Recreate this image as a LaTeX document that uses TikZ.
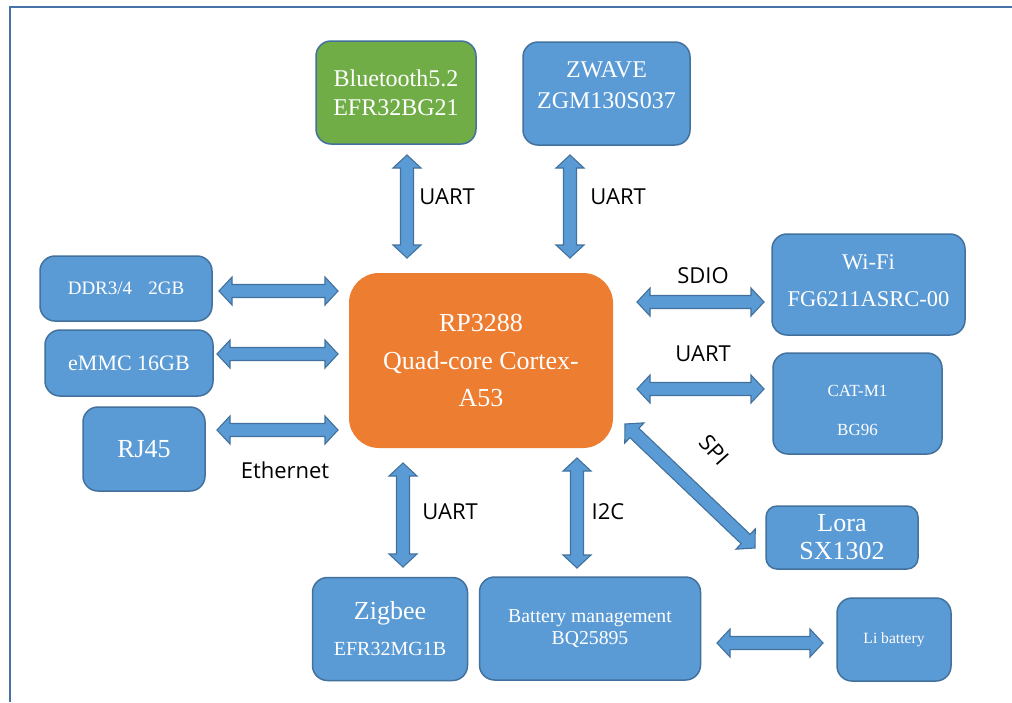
\documentclass[tikz,border=0pt]{standalone}
\usepackage{fontspec}
\setmainfont{Liberation Serif}
\newfontfamily\labfont{Open Sans}
\usetikzlibrary{calc}
\definecolor{boxblue}{RGB}{91,155,213}
\definecolor{edgeblue}{RGB}{65,113,156}
\definecolor{boxgreen}{RGB}{112,173,71}
\definecolor{boxorange}{RGB}{237,125,49}
\definecolor{framecol}{RGB}{70,114,166}
\tikzset{
  bbox/.style={draw=edgeblue, line width=1.5pt, fill=boxblue, rounded corners=15pt,
    inner sep=0pt, text=white, align=center},
  gbox/.style={bbox, fill=boxgreen},
  obox/.style={fill=boxorange, rounded corners=30pt, inner sep=0pt, text=white, align=center},
  wtxt/.style={inner sep=0pt, text=white, align=center},
  lab/.style={inner sep=0pt, font=\labfont\fontsize{22}{26}\selectfont},
  barr/.style={draw=edgeblue, line width=1.1pt, fill=boxblue, line join=miter},
}
\newcommand\barrow[2]{%
  \draw[barr] let \p1=(#1), \p2=(#2), \n1={atan2(\y2-\y1,\x2-\x1)},
    \n2={veclen(\x2-\x1,\y2-\y1)} in
    (\p1) -- ++({\n1+47.1}:19.1pt) -- ++({\n1-90}:7.5pt) -- ++({\n1}:{\n2*1pt-26pt})
    -- ++({\n1+90}:7.5pt) -- (\p2) -- ++({\n1-132.9}:19.1pt) -- ++({\n1+90}:7.5pt)
    -- ++({\n1+180}:{\n2*1pt-26pt}) -- ++({\n1-90}:7.5pt) -- cycle;}
\begin{document}
\begin{tikzpicture}[x=1pt,y=-1pt]
\useasboundingbox (0,0) rectangle (1012,702);
\fill[white] (0,0) rectangle (1012,702);
% frame
\draw[framecol, line width=2pt] (10,702) -- (10,7) -- (1012,7);

% boxes
\node[gbox, minimum width=160, minimum height=103, font=\fontsize{24}{29}\selectfont] (bt) at (396,92.5) {Bluetooth5.2\\EFR32BG21};
\node[bbox, minimum width=167, minimum height=103] (zw) at (606.5,93.5) {};
\node[wtxt, font=\fontsize{24}{31}\selectfont] (zwt) at (606.5,85.5) {ZWAVE\\ZGM130S037};
\node[bbox, minimum width=172, minimum height=65, font=\fontsize{19}{23}\selectfont] (ddr) at (126,288.5) {DDR3/4\hspace{0.85em}2GB};
\node[bbox, minimum width=168, minimum height=66, font=\fontsize{22}{26}\selectfont] (emmc) at (129,363) {eMMC 16GB};
\node[bbox, minimum width=122, minimum height=84, font=\fontsize{26}{30}\selectfont] (rj) at (144,449) {RJ45};
\node[obox, minimum width=264, minimum height=175, font=\fontsize{26}{37.5}\selectfont] (cpu) at (481,360.5) {RP3288\\Quad-core Cortex-\\A53};
\node[bbox, minimum width=193, minimum height=101] (wifi) at (868.5,284.5) {};
\node[wtxt, font=\fontsize{22.5}{37}\selectfont] (wifit) at (868.5,280.5) {Wi-Fi\\FG6211ASRC-00};
\node[bbox, minimum width=169, minimum height=101] (cat) at (857.5,403.5) {};
\node[wtxt, font=\fontsize{17}{39}\selectfont] (catt) at (857.5,410.5) {CAT-M1\\BG96};
\node[bbox, minimum width=152, minimum height=63, rounded corners=11pt, font=\fontsize{26}{28}\selectfont] (lora) at (842,537.5) {Lora\\SX1302};
\node[bbox, minimum width=155, minimum height=103, font=\fontsize{20}{36}\selectfont] (zig) at (390,629) {{\fontsize{26}{30}\selectfont Zigbee}\\EFR32MG1B};
\node[bbox, minimum width=221, minimum height=103, font=\fontsize{19.7}{22}\selectfont] (bat) at (590,628.5) {Battery management\\BQ25895};
\node[bbox, minimum width=114, minimum height=83, font=\fontsize{15.6}{19}\selectfont] (li) at (894,639.5) {Li battery};

% arrow end points
\coordinate (a1s) at (407,155); \coordinate (a1e) at (407,258);
\coordinate (a2s) at (570,155); \coordinate (a2e) at (570,258);
\coordinate (a3s) at (219,291); \coordinate (a3e) at (338,291);
\coordinate (a4s) at (217,354); \coordinate (a4e) at (338,354);
\coordinate (a5s) at (217,430); \coordinate (a5e) at (338,430);
\coordinate (a6s) at (637,302); \coordinate (a6e) at (764,302);
\coordinate (a7s) at (637,389); \coordinate (a7e) at (764,389);
\coordinate (a8s) at (625,424); \coordinate (a8e) at (755,548);
\coordinate (a9s) at (403,463); \coordinate (a9e) at (403,567);
\coordinate (a10s) at (577,458); \coordinate (a10e) at (577,568);
\coordinate (a11s) at (717,643); \coordinate (a11e) at (823,643);

\barrow{a1s}{a1e}
\barrow{a2s}{a2e}
\barrow{a3s}{a3e}
\barrow{a4s}{a4e}
\barrow{a5s}{a5e}
\barrow{a6s}{a6e}
\barrow{a7s}{a7e}
\barrow{a8s}{a8e}
\barrow{a9s}{a9e}
\barrow{a10s}{a10e}
\barrow{a11s}{a11e}

% labels
\node[lab] (l1) at (447,197) {UART};
\node[lab] (l2) at (618,197) {UART};
\node[lab] (l3) at (703,276) {SDIO};
\node[lab] (l4) at (703,354) {UART};
\node[lab, rotate=-48] (l5) at (714,450) {SPI};
\node[lab] (l6) at (285,470) {Ethernet};
\node[lab] (l7) at (450,512) {UART};
\node[lab] (l8) at (608,512) {I2C};
\end{tikzpicture}
\end{document}
